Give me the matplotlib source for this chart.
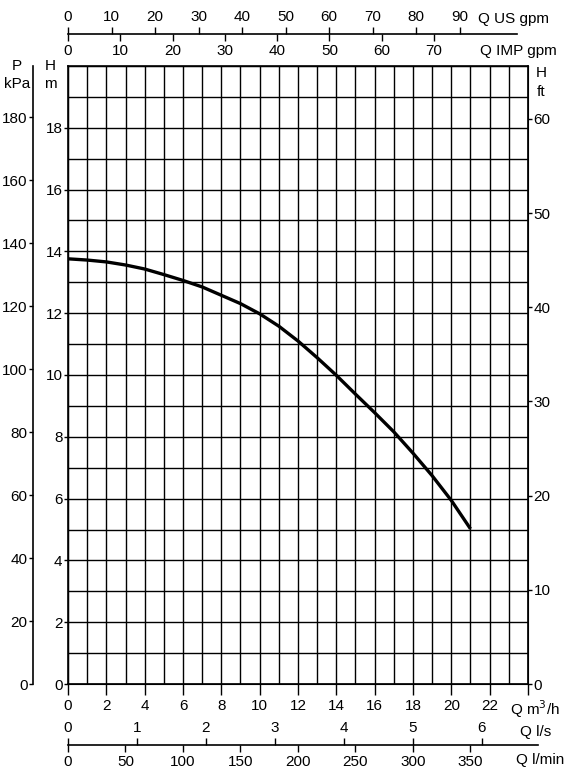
import matplotlib
matplotlib.use("Agg")
import matplotlib.pyplot as plt
import numpy as np

plt.rcParams['font.family'] = ['Liberation Sans Narrow', 'Liberation Sans', 'DejaVu Sans']
plt.rcParams['font.size'] = 11

# pump curve (Q in m3/h, H in m)
q_m3h = [0, 1, 2, 3, 4, 5, 6, 7, 8, 9, 10, 11, 12, 13, 14, 15, 16, 17, 18, 19, 20, 21]
h_m = [13.76, 13.72, 13.66, 13.56, 13.43, 13.25, 13.06, 12.85, 12.58, 12.31, 11.98,
       11.58, 11.10, 10.56, 9.99, 9.38, 8.78, 8.16, 7.47, 6.74, 5.94, 5.02]

# scale ticks
x_ticks = [0, 2, 4, 6, 8, 10, 12, 14, 16, 18, 20, 22, 24]
x_labels = ['0', '2', '4', '6', '8', '10', '12', '14', '16', '18', '20', '22', '']
h_ticks = [0, 2, 4, 6, 8, 10, 12, 14, 16, 18]
p_ticks = [0, 20, 40, 60, 80, 100, 120, 140, 160, 180]
ft_ticks = [0, 10, 20, 30, 40, 50, 60]
us_gpm = [0, 10, 20, 30, 40, 50, 60, 70, 80, 90]
imp_gpm = [0, 10, 20, 30, 40, 50, 60, 70]
l_s = [0, 1, 2, 3, 4, 5, 6]
l_min = [0, 50, 100, 150, 200, 250, 300, 350]

# unit conversions from m3/h
US = 4.403
IMP = 3.666
LS = 1 / 3.6
LMIN = 16.667
KPA = 9.81
FT = 3.281

W, H = 566, 781
fig = plt.figure(figsize=(W / 100, H / 100), dpi=100)


def fx(px):
    return px / W


def fy(px):
    return 1 - px / H


x0, x1 = 68, 528
y0, y1 = 684, 66
px_per_q = (x1 - x0) / 24.0

ax = fig.add_axes([fx(x0), fy(y0), fx(x1) - fx(x0), fy(y1) - fy(y0)])
ax.set_xlim(0, 24)
ax.set_ylim(0, 20)
ax.set_xticks(range(25), minor=True)
ax.set_yticks(range(21), minor=True)
ax.grid(True, which='both', color='black', linewidth=1.0)
ax.set_xticks(x_ticks)
ax.set_xticklabels(x_labels)
ax.tick_params(axis='x', which='major', direction='out', length=8, width=1, pad=3)
ax.tick_params(axis='x', which='minor', length=0)
ax.set_yticks(h_ticks)
ax.tick_params(axis='y', which='major', direction='out', length=3, width=1, pad=1)
ax.tick_params(axis='y', which='minor', length=0)
for s in ax.spines.values():
    s.set_linewidth(1.2)
ax.plot(q_m3h, h_m, color='black', linewidth=2.4, solid_capstyle='butt', zorder=5)

# right axis in ft
axr = ax.twinx()
axr.set_ylim(0, 20 * FT)
axr.set_yticks(ft_ticks)
axr.tick_params(axis='y', direction='out', length=3, width=1, pad=1)

# left axis in kPa
axp = ax.twinx()
axp.set_ylim(0, 20 * KPA)
axp.yaxis.set_ticks_position('left')
axp.yaxis.set_label_position('left')
axp.spines['left'].set_position(('axes', -(x0 - 33) / (x1 - x0)))
axp.spines['left'].set_linewidth(1.2)
for k in ['right', 'top', 'bottom']:
    axp.spines[k].set_visible(False)
axp.set_yticks(p_ticks)
axp.tick_params(axis='y', direction='out', length=3, width=1, pad=1)


def scale_axes(y_px, right_px, top_vals, top_conv, bot_vals, bot_conv):
    rect = [fx(x0), fy(y_px), fx(right_px) - fx(x0), 0.0001]
    qmax = (right_px - x0) / px_per_q
    a = fig.add_axes(rect)
    a.set_xlim(0, qmax)
    a.set_yticks([])
    for k in ['left', 'right', 'top']:
        a.spines[k].set_visible(False)
    a.spines['bottom'].set_linewidth(1.2)
    a.set_xticks([v / bot_conv for v in bot_vals])
    a.set_xticklabels([str(v) for v in bot_vals])
    a.tick_params(axis='x', direction='out', length=5, width=1, pad=2)
    a.patch.set_visible(False)
    b = fig.add_axes(rect)
    b.set_xlim(0, qmax)
    b.set_yticks([])
    for k in b.spines:
        b.spines[k].set_visible(False)
    b.xaxis.set_ticks_position('top')
    b.set_xticks([v / top_conv for v in top_vals])
    b.set_xticklabels([str(v) for v in top_vals])
    b.tick_params(axis='x', direction='out', length=5, width=1, pad=2)
    b.patch.set_visible(False)


scale_axes(34, 517, us_gpm, US, imp_gpm, IMP)
scale_axes(745, 538, l_s, LS, l_min, LMIN)

# unit captions
fig.text(fx(17), fy(66), 'P', ha='center', va='center')
fig.text(fx(17), fy(84), 'kPa', ha='center', va='center')
fig.text(fx(50), fy(66), 'H', ha='center', va='center')
fig.text(fx(50), fy(84), 'm', ha='center', va='center')
fig.text(fx(541), fy(73), 'H', ha='center', va='center')
fig.text(fx(541), fy(92), 'ft', ha='center', va='center')
fig.text(fx(513), fy(19), 'Q US gpm', ha='center', va='center')
fig.text(fx(518), fy(51), 'Q IMP gpm', ha='center', va='center')
fig.text(fx(535), fy(709), 'Q m$^3$/h', ha='center', va='center')
fig.text(fx(536), fy(732), 'Q l/s', ha='center', va='center')
fig.text(fx(540), fy(760), 'Q l/min', ha='center', va='center')

fig.savefig('out.png', dpi=100)
